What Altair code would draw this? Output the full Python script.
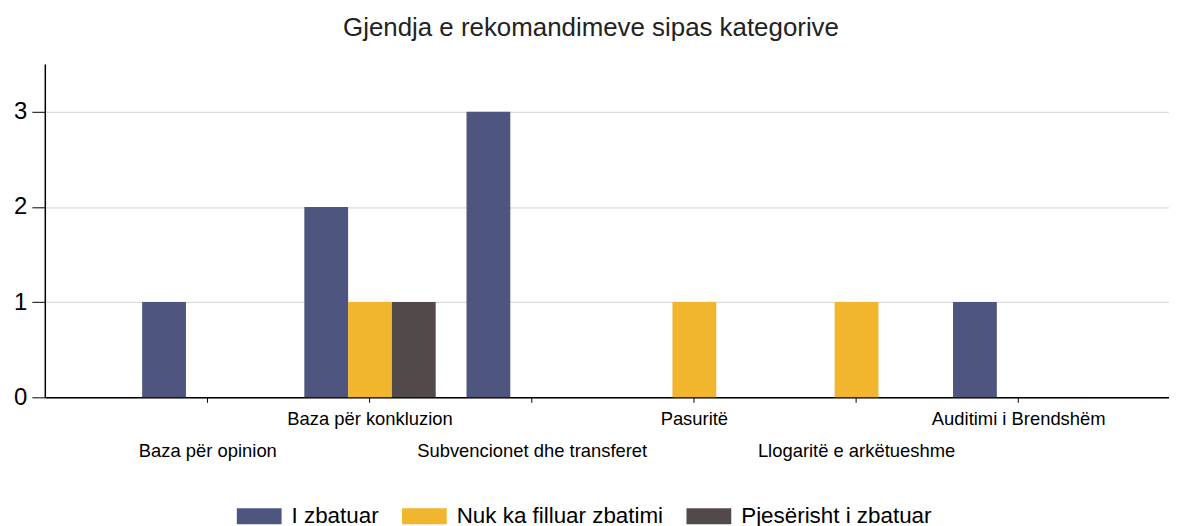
import json
import altair as alt
import pandas as pd

categories = ["Baza për opinion", "Baza për konkluzion", "Subvencionet dhe transferet",
              "Pasuritë", "Llogaritë e arkëtueshme", "Auditimi i Brendshëm"]
series = ["I zbatuar", "Nuk ka filluar zbatimi", "Pjesërisht i zbatuar"]
i_zbatuar = [1, 2, 3, 0, 0, 1]
nuk_ka_filluar = [0, 1, 0, 1, 1, 0]
pjeserisht = [0, 1, 0, 0, 0, 0]
colors = ["#4e5680", "#f1b52e", "#524a4a"]

rows = []
for s, vals in zip(series, [i_zbatuar, nuk_ka_filluar, pjeserisht]):
    for c, v in zip(categories, vals):
        rows.append({"kategoria": c, "gjendja": s, "numri": v})
df = pd.DataFrame(rows)

lower = json.dumps(categories[0::2], ensure_ascii=False)
label_expr = f"indexof({lower}, datum.value) >= 0 ? ['', datum.label] : [datum.label]"

FONT = "Liberation Sans"

chart = alt.Chart(df).mark_bar().encode(
    x=alt.X("kategoria:N", sort=categories,
            scale=alt.Scale(paddingInner=0.19, paddingOuter=0.561, align=0.535),
            axis=alt.Axis(title=None, labelAngle=0, labelExpr=label_expr,
                          labelFont=FONT, labelFontSize=18.5, labelColor="#000",
                          labelLineHeight=32, labelPadding=7, labelOverlap=False,
                          labelBound=False, labelLimit=0, tickSize=5, tickColor="#000",
                          domainColor="#000", domainWidth=1.5, grid=False)),
    xOffset=alt.XOffset("gjendja:N", sort=series),
    y=alt.Y("numri:Q", scale=alt.Scale(domain=[0, 3.5], nice=False),
            axis=alt.Axis(title=None, values=[0, 1, 2, 3], format="d",
                          labelFont=FONT, labelFontSize=24, labelColor="#000",
                          labelPadding=5, tickSize=13, tickColor="#000",
                          domainColor="#000", domainWidth=1.5,
                          gridColor="#dcdcdc", gridWidth=1.2)),
    color=alt.Color("gjendja:N", sort=series,
                    scale=alt.Scale(domain=series, range=colors),
                    legend=alt.Legend(orient="none", legendX=193, legendY=432,
                                      direction="horizontal", columns=3, title=None,
                                      symbolType="M-1,-0.36H1V0.36H-1Z", symbolSize=2025,
                                      symbolStrokeWidth=0, labelFont=FONT,
                                      labelFontSize=22.5, labelColor="#000",
                                      labelLimit=0, labelOffset=10, columnPadding=23)),
).properties(
    width=1130, height=335,
    padding={"left": 5, "top": 6, "right": 0, "bottom": 0},
    title=alt.TitleParams(text="Gjendja e rekomandimeve sipas kategorive",
                          font=FONT, fontSize=26, fontWeight="normal",
                          color="#222", anchor="middle", dx=-16, offset=23),
).configure_view(stroke=None)

chart.save("out.html", embed_options={"renderer": "svg", "actions": False})
